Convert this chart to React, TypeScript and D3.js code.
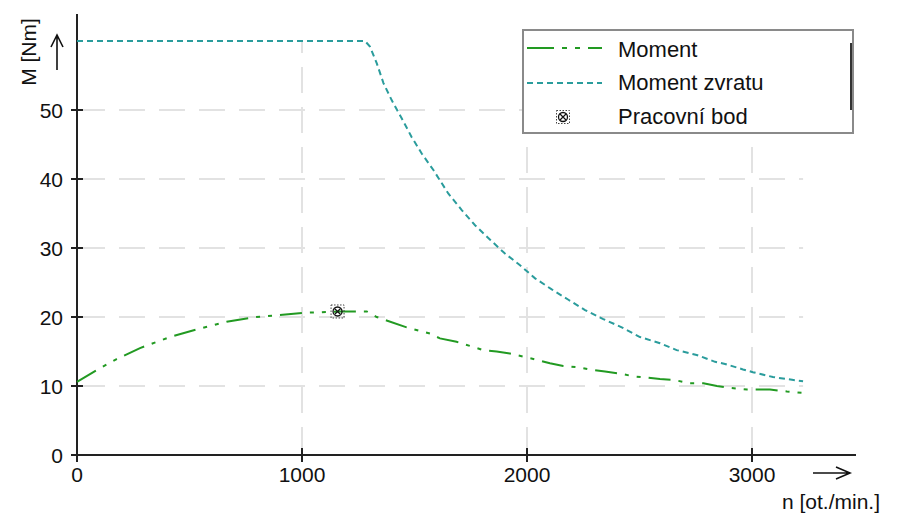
import React, { useEffect, useRef } from "react";
import { select, scaleLinear, line, curveLinear } from "d3";

const width = 898;
const height = 515;

// Moment (green dash-dot)
const nMoment = [0, 87, 176, 280, 413, 532, 665, 784, 902, 1006, 1169, 1288, 1332, 1465, 1569, 1613, 1687, 1747, 1806, 1865, 1924, 1991, 2043, 2102, 2161, 2228, 2295, 2347, 2413, 2473, 2539, 2591, 2650, 2724, 2784, 2844, 2896, 2978, 3080, 3155, 3227];
const mMoment = [10.6, 12.3, 13.9, 15.5, 17.1, 18.2, 19.3, 19.95, 20.3, 20.6, 20.8, 20.8, 20.0, 18.5, 17.6, 16.9, 16.4, 15.8, 15.2, 15.0, 14.7, 14.2, 13.8, 13.3, 12.9, 12.7, 12.3, 12.1, 11.8, 11.4, 11.2, 11.0, 10.9, 10.4, 10.4, 10.0, 9.75, 9.5, 9.5, 9.2, 9.0];

// Moment zvratu (teal dashed)
const nZvrat = [0, 1280, 1302, 1332, 1362, 1399, 1443, 1487, 1532, 1584, 1650, 1710, 1769, 1836, 1902, 1969, 2036, 2110, 2184, 2258, 2339, 2421, 2502, 2591, 2665, 2754, 2836, 2880, 2960, 3004, 3093, 3178, 3227];
const mZvrat = [60, 60, 59.2, 56.8, 53.9, 51.4, 48.8, 46.1, 43.7, 41.3, 37.9, 35.5, 33.3, 31.2, 29.2, 27.5, 25.6, 24.0, 22.5, 21.0, 19.7, 18.5, 17.1, 16.2, 15.2, 14.5, 13.5, 13.2, 12.4, 12.0, 11.3, 10.9, 10.7];

// Pracovni bod
const workN = [1158];
const workM = [20.8];

const xTicks = [0, 1000, 2000, 3000];
const yTicks = [0, 10, 20, 30, 40, 50];
const legendLabels = ["Moment", "Moment zvratu", "Pracovní bod"];

const green = "#229a22";
const teal = "#2a9c9c";
const font = "'Liberation Sans', Arial, sans-serif";

const drawMarker = (g, cx, cy) => {
  const m = g.append("g").attr("transform", `translate(${cx},${cy})`);
  m.append("rect")
    .attr("x", -6.5).attr("y", -6.5).attr("width", 13).attr("height", 13)
    .attr("fill", "none").attr("stroke", "#444").attr("stroke-width", 1)
    .attr("stroke-dasharray", "1.5,1.5");
  m.append("circle").attr("r", 4.5).attr("fill", "none").attr("stroke", "#111").attr("stroke-width", 1.3);
  m.append("path").attr("d", "M-3,-3L3,3M-3,3L3,-3").attr("stroke", "#111").attr("stroke-width", 1.2);
};

const App = () => {
  const ref = useRef(null);

  useEffect(() => {
    const svg = select(ref.current);
    svg.selectAll("*").remove();

    const x = scaleLinear().domain([0, 3000]).range([77, 752]);
    const y = scaleLinear().domain([0, 50]).range([455, 110]);
    const xMax = Math.max(...nMoment);
    const yMax = Math.max(...mZvrat);

    // grid
    const grid = svg.append("g").attr("stroke", "#e2e2e2").attr("stroke-width", 2).attr("stroke-dasharray", "26,14");
    yTicks.filter((d) => d > 0).forEach((d) => {
      grid.append("line").attr("x1", x(0) + 2).attr("x2", x(xMax)).attr("y1", y(d)).attr("y2", y(d));
    });
    xTicks.filter((d) => d > 0).forEach((d) => {
      grid.append("line").attr("x1", x(d)).attr("x2", x(d)).attr("y1", y(0) - 2).attr("y2", y(yMax));
    });

    // axes
    const axes = svg.append("g").attr("stroke", "#222").attr("stroke-width", 2);
    axes.append("line").attr("x1", x(0)).attr("x2", x(0)).attr("y1", y(0) + 7).attr("y2", 14);
    axes.append("line").attr("x1", x(0) - 6).attr("x2", 856).attr("y1", y(0)).attr("y2", y(0));
    yTicks.forEach((d) => {
      axes.append("line").attr("x1", x(0) - 6).attr("x2", x(0) + 6).attr("y1", y(d)).attr("y2", y(d));
    });
    xTicks.forEach((d) => {
      axes.append("line").attr("x1", x(d)).attr("x2", x(d)).attr("y1", y(0) - 7).attr("y2", y(0) + 7);
    });

    const labels = svg.append("g").attr("font-family", font).attr("font-size", 21).attr("fill", "#111");
    yTicks.forEach((d) => {
      labels.append("text").attr("x", 63).attr("y", y(d) + 7.5).attr("text-anchor", "end").text(d);
    });
    xTicks.forEach((d) => {
      labels.append("text").attr("x", x(d)).attr("y", 482).attr("text-anchor", "middle").text(d);
    });

    // axis titles and arrows
    labels.append("text")
      .attr("transform", "translate(36,52) rotate(-90)")
      .attr("text-anchor", "middle")
      .attr("font-size", 21)
      .text("M [Nm]");
    labels.append("text").attr("x", 782).attr("y", 509).attr("font-size", 21).text("n [ot./min.]");
    const arrows = svg.append("g").attr("stroke", "#111").attr("stroke-width", 1.6).attr("fill", "none");
    arrows.append("path").attr("d", "M57,70L57,36M51,47L57,35L63,47");
    arrows.append("path").attr("d", "M813,473L849,473M836,467L850,473L836,479");

    // curves
    const path = line().x((d) => x(d[0])).y((d) => y(d[1])).curve(curveLinear);
    svg.append("path")
      .datum(nZvrat.map((n, i) => [n, mZvrat[i]]))
      .attr("fill", "none").attr("stroke", teal).attr("stroke-width", 2)
      .attr("stroke-dasharray", "6,4")
      .attr("d", path);
    svg.append("path")
      .datum(nMoment.map((n, i) => [n, mMoment[i]]))
      .attr("fill", "none").attr("stroke", green).attr("stroke-width", 2)
      .attr("stroke-dasharray", "22,8,4,8,4,8")
      .attr("d", path);

    workN.forEach((n, i) => drawMarker(svg, x(n), y(workM[i])));

    // legend
    const lg = svg.append("g");
    lg.append("rect").attr("x", 523).attr("y", 30).attr("width", 330).attr("height", 103)
      .attr("fill", "#fff").attr("stroke", "#8a8a8a").attr("stroke-width", 2);
    lg.append("line").attr("x1", 851).attr("x2", 851).attr("y1", 43).attr("y2", 110)
      .attr("stroke", "#333").attr("stroke-width", 2);
    lg.append("line").attr("x1", 527).attr("x2", 602).attr("y1", 48).attr("y2", 48)
      .attr("stroke", green).attr("stroke-width", 2).attr("stroke-dasharray", "27,8,5,8,5,8");
    lg.append("line").attr("x1", 527).attr("x2", 602).attr("y1", 83).attr("y2", 83)
      .attr("stroke", teal).attr("stroke-width", 2).attr("stroke-dasharray", "6,4");
    drawMarker(lg, 563, 117);
    const lgBase = [57, 90, 124];
    legendLabels.forEach((t, i) => {
      lg.append("text").attr("x", 618).attr("y", lgBase[i])
        .attr("font-family", font).attr("font-size", 22).attr("fill", "#111").text(t);
    });
  }, []);

  return (
    <svg
      ref={ref}
      width={width}
      height={height}
      style={{ position: "absolute", left: 0, top: 0, background: "#fff" }}
    />
  );
};

export default App;
